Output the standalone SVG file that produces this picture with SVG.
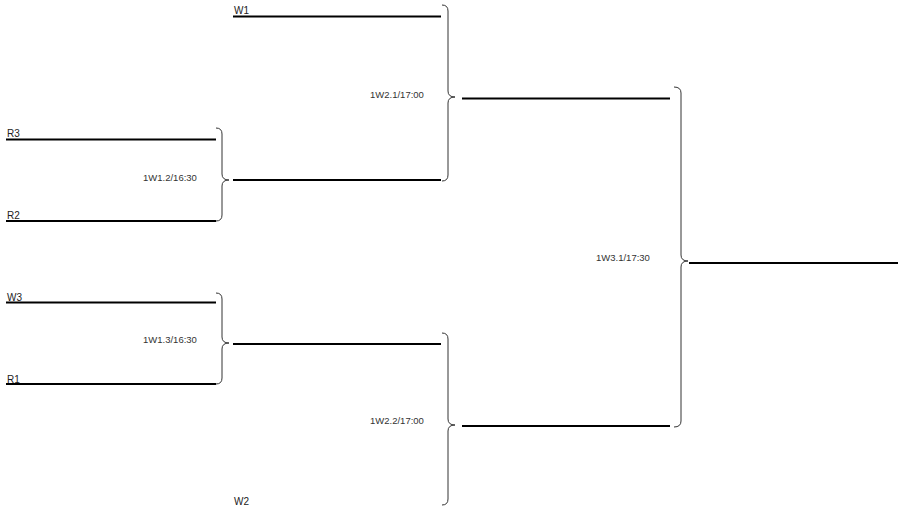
<svg xmlns="http://www.w3.org/2000/svg" width="899" height="507" viewBox="0 0 899 507">
<style>
.ln{stroke:#000;stroke-width:2;fill:none}
.br{stroke:#333;stroke-width:1;fill:none}
.nm{font-family:"Liberation Sans",Arial,sans-serif;font-size:10px;fill:#222}
.lb{font-family:"Liberation Sans",Arial,sans-serif;font-size:9.5px;fill:#333}
</style>
<rect width="899" height="507" fill="#fff"/>
<g id="connectors">
<path class="br" d="M216,128 Q222,128 222,134 L222,174 Q222,180 229,180 Q222,180 222,186 L222,215 Q222,221 216,221"/>
<path class="br" d="M442,5 Q448,5 448,11 L448,91 Q448,97 455,97 Q448,97 448,103 L448,175 Q448,181 442,181"/>
<path class="br" d="M216,293 Q222,293 222,299 L222,337 Q222,343 229,343 Q222,343 222,349 L222,378 Q222,384 216,384"/>
<path class="br" d="M442,333 Q448,333 448,339 L448,419 Q448,425 455,425 Q448,425 448,431 L448,499 Q448,505 442,505"/>
<path class="br" d="M674,87 Q681,87 681,93 L681,255 Q681,261 688,261 Q681,261 681,267 L681,421 Q681,427 674,427"/>
</g>
<g id="R3"><line class="ln" x1="6" y1="139.5" x2="216" y2="139.5"/><text class="nm" x="7" y="137">R3</text></g>
<g id="R2"><line class="ln" x1="6" y1="221" x2="216" y2="221"/><text class="nm" x="7" y="219">R2</text></g>
<g id="W3"><line class="ln" x1="6" y1="302.5" x2="216" y2="302.5"/><text class="nm" x="7" y="301">W3</text></g>
<g id="R1"><line class="ln" x1="6" y1="384" x2="216" y2="384"/><text class="nm" x="7" y="383">R1</text></g>
<g id="W1"><line class="ln" x1="233" y1="16.5" x2="441" y2="16.5"/><text class="nm" x="234" y="14">W1</text></g>
<g id="W2"><text class="nm" x="234" y="505">W2</text></g>
<g id="m12"><line class="ln" x1="233" y1="180" x2="441" y2="180"/><text class="lb" x="143" y="181">1W1.2/16:30</text></g>
<g id="m13"><line class="ln" x1="233" y1="344" x2="441" y2="344"/><text class="lb" x="143" y="343">1W1.3/16:30</text></g>
<g id="m21"><line class="ln" x1="462" y1="98.5" x2="670" y2="98.5"/><text class="lb" x="370" y="98">1W2.1/17:00</text></g>
<g id="m22"><line class="ln" x1="462" y1="426" x2="670" y2="426"/><text class="lb" x="370" y="424">1W2.2/17:00</text></g>
<g id="m31"><line class="ln" x1="689" y1="263" x2="898" y2="263"/><text class="lb" x="596" y="261">1W3.1/17:30</text></g>
</svg>
